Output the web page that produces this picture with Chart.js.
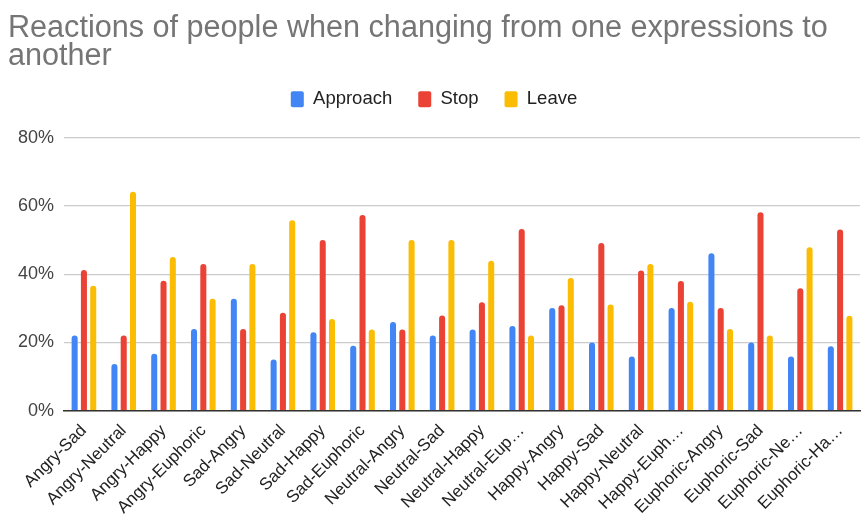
<!DOCTYPE html>
<html>
<head>
<meta charset="utf-8">
<script src="https://cdn.jsdelivr.net/npm/chart.js@4"></script>
<style>
  html, body { margin: 0; padding: 0; background: #fff; }
  #wrap { width: 864px; height: 520px; }
</style>
</head>
<body>
<div id="wrap"><canvas id="chart"></canvas></div>
<script>
// categories (transition from one expression to another)
const categories = [
  'Angry-Sad', 'Angry-Neutral', 'Angry-Happy', 'Angry-Euphoric',
  'Sad-Angry', 'Sad-Neutral', 'Sad-Happy', 'Sad-Euphoric',
  'Neutral-Angry', 'Neutral-Sad', 'Neutral-Happy', 'Neutral-Euphoric',
  'Happy-Angry', 'Happy-Sad', 'Happy-Neutral', 'Happy-Euphoric',
  'Euphoric-Angry', 'Euphoric-Sad', 'Euphoric-Neutral', 'Euphoric-Happy'
];
// labels as they are shown on the axis (long ones are cut)
const tickLabels = [
  'Angry-Sad', 'Angry-Neutral', 'Angry-Happy', 'Angry-Euphoric',
  'Sad-Angry', 'Sad-Neutral', 'Sad-Happy', 'Sad-Euphoric',
  'Neutral-Angry', 'Neutral-Sad', 'Neutral-Happy', 'Neutral-Eup…',
  'Happy-Angry', 'Happy-Sad', 'Happy-Neutral', 'Happy-Euph…',
  'Euphoric-Angry', 'Euphoric-Sad', 'Euphoric-Ne…', 'Euphoric-Ha…'
];
const approach = [22, 13.7, 16.7, 23.9, 32.8, 15, 23, 19, 26, 22, 23.8, 24.8, 30.1, 20, 15.9, 30.1, 46.1, 20, 15.9, 18.9];
const stop     = [41.2, 22, 38.1, 43, 23.9, 28.7, 50, 57.3, 23.8, 27.9, 31.8, 53.2, 30.9, 49.1, 41.1, 38, 30.1, 58.1, 35.9, 53.1];
const leave    = [36.6, 64.1, 45, 32.8, 43, 55.8, 26.9, 23.8, 50, 50, 43.9, 22, 38.9, 31.1, 43, 31.9, 23.9, 22, 47.9, 27.8];
const yTicks = [0, 20, 40, 60, 80];

const font = '"Liberation Sans", Arial, sans-serif';
const narrow = '"Liberation Sans Narrow", "Arial Narrow", "Liberation Sans", sans-serif';

const bar = (label, data, color) => ({
  label: label,
  data: data,
  backgroundColor: color,
  borderRadius: { topLeft: 3, topRight: 3 },
  borderSkipped: 'start',
  categoryPercentage: 0.7,
  barPercentage: 0.65
});

// leave some room under the legend
const legendGap = {
  id: 'legendGap',
  beforeInit: chart => {
    const fit = chart.legend.fit;
    chart.legend.fit = function () {
      fit.bind(chart.legend)();
      this.height += 19;
    };
  }
};

new Chart(document.getElementById('chart'), {
  type: 'bar',
  data: {
    labels: categories,
    datasets: [
      bar('Approach', approach, '#4285F4'),
      bar('Stop', stop, '#EA4335'),
      bar('Leave', leave, '#FBBC04')
    ]
  },
  plugins: [legendGap],
  options: {
    responsive: true,
    maintainAspectRatio: false,
    animation: false,
    layout: { padding: { left: 8, right: 4, top: 6, bottom: 0 } },
    plugins: {
      title: {
        display: true,
        text: ['Reactions of people when changing from one expressions to', 'another'],
        align: 'start',
        color: '#757575',
        font: { family: narrow, size: 30.6, weight: 'normal', lineHeight: 0.9 },
        padding: { top: 9, bottom: -6 }
      },
      legend: {
        position: 'top',
        labels: {
          color: '#222',
          font: { family: narrow, size: 18.5 },
          boxWidth: 13,
          boxHeight: 16,
          useBorderRadius: true,
          borderRadius: 2,
          padding: 26
        }
      },
      tooltip: { enabled: false }
    },
    scales: {
      x: {
        grid: { display: false },
        border: { display: true, color: '#333', width: 1.5 },
        ticks: {
          color: '#222',
          font: { family: font, size: 17 },
          maxRotation: 45,
          minRotation: 45,
          autoSkip: false,
          padding: 2,
          callback: (v, i) => tickLabels[i]
        }
      },
      y: {
        min: 0,
        max: 80,
        afterBuildTicks: axis => { axis.ticks = yTicks.map(v => ({ value: v })); },
        grid: { color: '#cccccc', lineWidth: 1.3, drawTicks: false },
        border: { display: false },
        ticks: {
          color: '#444',
          font: { family: font, size: 18 },
          padding: 10,
          callback: v => v + '%'
        }
      }
    }
  }
});
</script>
</body>
</html>
